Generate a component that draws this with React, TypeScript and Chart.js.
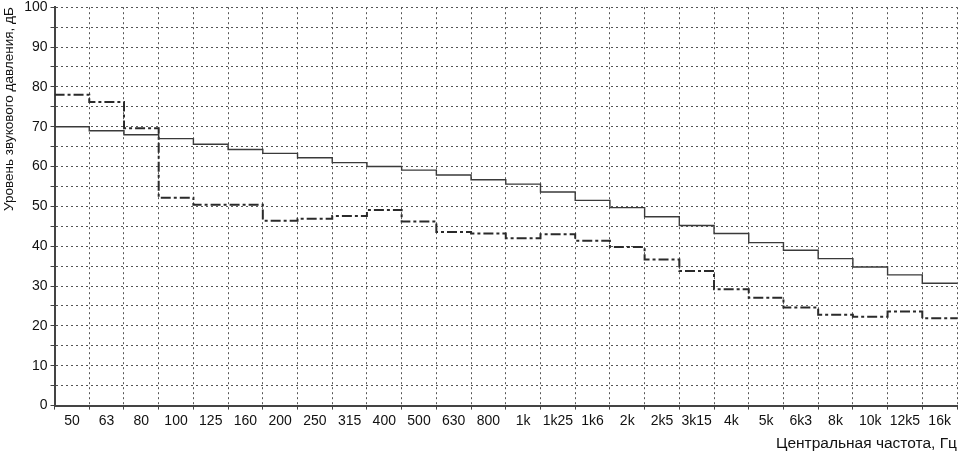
import React, { useEffect, useRef } from "react";
import { Chart, registerables } from "chart.js";

Chart.register(...registerables);

const categories = ["50","63","80","100","125","160","200","250","315","400","500","630","800","1k","1k25","1k6","2k","2k5","3k15","4k","5k","6k3","8k","10k","12k5","16k"];
const solidLevels = [70,69,68,67,65.6,64.3,63.3,62.2,61,60,59.1,57.9,56.7,55.6,53.6,51.5,49.7,47.4,45.2,43.2,40.9,39,36.9,34.8,32.8,30.7];
const dashedLevels = [78,76.2,69.6,52.2,50.4,50.4,46.4,46.9,47.6,49.1,46.2,43.6,43.2,42,43,41.4,39.8,36.7,33.8,29.2,27.1,24.6,22.8,22.3,23.6,21.9];
const yTitle = "Уровень звукового давления, дБ";
const xTitle = "Центральная частота, Гц";

function stepPoints(vals: number[]) {
  const pts = vals.map((v, i) => ({ x: i, y: v }));
  pts.push({ x: vals.length, y: vals[vals.length - 1] });
  return pts;
}

export default function App() {
  const ref = useRef<HTMLCanvasElement>(null);
  useEffect(() => {
    if (!ref.current) return;
    const font = "'Liberation Sans', Arial, sans-serif";
    const chart = new Chart(ref.current, {
      type: "line",
      data: {
        labels: categories,
        datasets: [
          {
            data: stepPoints(solidLevels),
            xAxisID: "xd",
            stepped: "before",
            borderColor: "#3a3a3a",
            borderWidth: 1.4,
            pointRadius: 0,
            fill: false,
          },
          {
            data: stepPoints(dashedLevels),
            xAxisID: "xd",
            stepped: "before",
            borderColor: "#2a2a2a",
            borderWidth: 2,
            borderDash: [10, 3, 3, 3],
            pointRadius: 0,
            fill: false,
          },
        ],
      },
      options: {
        animation: false,
        responsive: false,
        maintainAspectRatio: false,
        layout: { padding: { top: 6, right: 3, left: 1, bottom: -2 } },
        plugins: { legend: { display: false }, tooltip: { enabled: false } },
        scales: {
          x: {
            type: "category",
            offset: true,
            grid: {
              offset: true,
              color: "#555",
              lineWidth: 1,
              tickLength: 4,
              tickColor: "#444",
            },
            border: { display: true, color: "#444", width: 2, dash: [2, 3] },
            ticks: { color: "#111", font: { family: font, size: 14 }, maxRotation: 0, autoSkip: false, padding: 3 },
            title: { display: true, text: xTitle, align: "end", color: "#111", font: { family: font, size: 15.5 }, padding: { top: 2, bottom: 0 } },
          },
          xd: { type: "linear", display: false, min: 0, max: categories.length },
          y: {
            min: 0,
            max: 100,
            ticks: {
              stepSize: 5,
              color: "#111",
              font: { family: font, size: 14, lineHeight: 0.6 },
              padding: 3,
              callback: (v: any) => (Number(v) % 10 === 0 ? String(v) : ""),
            },
            grid: { color: "#555", lineWidth: 1, tickLength: 4, tickColor: "#444" },
            border: { display: true, color: "#444", width: 2, dash: [2, 3] },
            title: { display: true, text: yTitle, align: "end", color: "#111", font: { family: font, size: 13.5 }, padding: { top: 0, bottom: 4 } },
          },
        },
      },
    } as any);
    return () => chart.destroy();
  }, []);
  return (
    <div style={{ position: "absolute", left: 0, top: 0, width: 960, height: 451, background: "#fff" }}>
      <canvas ref={ref} width={960} height={451} style={{ display: "block" }} />
    </div>
  );
}
